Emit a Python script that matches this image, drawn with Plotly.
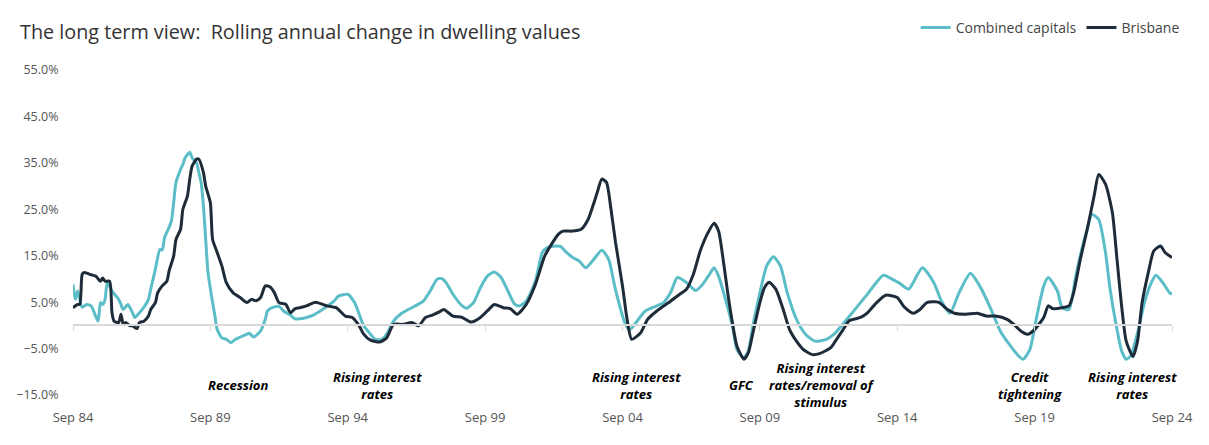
import pandas as pd
import plotly.graph_objects as go

# months since Sep 1984, and rolling annual change (%)
cc_months = [0,1,2,4,6,8,9,11,12,13,14,15,17,20,21,22,24,26,27,29,31,33,34,35,36,38,39,40,42,43,44,45,47,48,49,51,52,54,55,56,57,58,59,61,62,63,65,67,69,71,74,76,77,79,82,84,85,87,90,92,95,97,99,102,105,109,114,116,120,123,125,127,130,132,135,137,140,143,146,150,153,156,159,161,163,166,170,172,175,178,181,184,187,190,193,195,198,202,205,207,211,213,215,218,221,224,227,231,234,237,241,243,247,250,255,258,261,264,268,272,275,278,280,282,285,288,290,293,295,297,300,303,306,309,312,316,320,324,329,333,338,344,347,354,358,361,365,371,376,379,383,387,392,396,401,405,409,413,415,418,421,424,426,430,432,435,438,441,443,445,448,451,453,456,458,460,462,465,468,471,473,476,479,480]
cc_values = [8.8,5.6,7.4,3.9,4.5,4.2,3.1,0.9,4.9,4.5,5.6,9.2,7.4,5.6,4.5,3.4,4.5,2.7,1.7,2.7,3.9,5.6,7.8,9.9,12.1,16.4,16.2,18.9,21.1,22.5,26.4,30.8,33.6,34.7,36.1,37.3,36.1,35.0,32.9,30.8,25.7,18.5,11.4,4.9,2.0,-0.9,-2.7,-3.0,-3.7,-3.0,-2.3,-1.9,-1.7,-2.5,-1.2,1.3,3.1,3.8,4.1,3.1,2.2,1.4,1.4,1.7,2.2,3.4,5.2,6.3,6.7,4.9,2.4,-0.1,-1.9,-3.0,-3.0,-1.9,0.9,2.4,3.3,4.3,5.2,7.4,9.9,10.1,9.2,6.7,4.2,3.7,4.9,8.1,10.6,11.5,10.3,7.4,4.5,4.2,5.2,9.5,15.7,16.7,17.1,17.0,16.0,14.7,13.9,12.4,13.9,16.2,14.2,7.6,0.6,-1.0,1.3,3.1,4.2,4.9,7.0,10.3,9.2,7.5,8.8,11.0,12.4,10.6,5.6,-0.1,-5.2,-7.0,-5.5,-0.1,7.0,12.8,14.8,12.8,7.0,1.3,-1.9,-3.4,-3.0,-1.6,1.3,4.9,6.7,10.8,9.9,9.1,7.8,12.4,9.2,5.6,2.6,7.0,11.2,8.5,3.4,-1.2,-4.1,-6.6,-7.3,-5.2,2.0,8.5,10.3,7.4,3.8,3.4,10.6,17.1,20.7,23.9,22.8,15.7,7.8,-0.9,-5.5,-7.3,-6.6,-1.6,4.9,9.2,10.8,9.2,7.0,6.7]

bne_months = [0,2,3,4,5,8,10,12,13,14,16,17,18,20,21,22,23,25,26,28,29,31,33,34,36,37,39,41,42,44,45,47,48,50,51,52,54,55,57,58,60,61,63,65,67,70,73,76,78,80,82,84,86,88,90,93,95,97,99,102,106,111,115,119,122,125,127,130,134,137,140,144,148,151,154,157,160,162,166,170,174,178,181,184,188,191,194,198,202,206,209,212,214,218,222,225,229,231,233,235,237,240,242,244,248,251,255,261,265,268,271,274,277,280,282,284,286,288,290,293,295,297,300,302,304,307,310,313,316,319,323,326,331,333,336,339,344,347,351,355,360,363,367,370,373,378,382,385,390,395,399,403,408,411,414,417,420,424,426,428,432,435,437,440,443,446,448,451,454,456,458,460,463,465,467,470,472,475,477,480]
bne_values = [3.8,4.5,4.5,11.0,11.4,10.9,10.6,9.5,10.2,9.5,9.5,2.7,0.9,0.6,2.4,0.2,0.6,-0.1,-0.1,-0.7,0.6,0.9,2.0,3.4,4.9,7.0,8.5,9.5,11.7,14.9,18.5,20.7,25.0,27.9,31.5,34.3,35.8,35.8,32.9,30.0,26.4,18.5,15.7,12.8,9.2,7.0,6.0,4.9,5.6,5.3,6.0,8.5,8.3,7.0,4.9,4.5,2.7,3.6,3.8,4.2,5.0,4.2,3.8,2.0,1.7,-0.1,-1.9,-3.2,-3.6,-2.7,0.2,0.2,0.6,-0.1,1.7,2.2,2.9,3.4,2.0,1.7,0.7,1.7,3.1,4.5,3.8,3.6,2.4,4.5,8.8,14.9,17.5,19.6,20.3,20.3,20.7,22.8,28.6,31.5,30.8,25.0,17.8,8.5,1.3,-3.0,-1.6,1.3,3.1,5.2,6.7,7.8,11.0,16.0,19.6,22.0,20.3,14.2,7.0,0.6,-4.5,-7.3,-5.9,-1.6,4.9,8.1,9.3,7.8,3.8,-0.9,-3.4,-5.2,-6.3,-6.1,-4.8,-3.4,-1.2,1.0,1.7,2.7,4.9,6.5,6.0,4.0,2.6,3.4,4.9,5.0,3.4,2.6,2.4,2.6,2.0,2.0,1.3,0.2,-1.2,-1.9,-0.9,1.7,4.2,3.6,3.8,4.2,7.0,14.2,20.7,27.9,32.5,30.4,24.3,14.2,4.2,-3.4,-6.7,-3.4,4.9,12.1,16.0,17.1,15.7,14.6]

tick_years = [1984, 1989, 1994, 1999, 2004, 2009, 2014, 2019, 2024]
tick_labels = ["Sep 84", "Sep 89", "Sep 94", "Sep 99", "Sep 04", "Sep 09", "Sep 14", "Sep 19", "Sep 24"]

events = ["Recession", "Rising interest<br>rates", "Rising interest<br>rates", "GFC",
          "Rising interest<br>rates/removal of<br>stimulus", "Credit<br>tightening", "Rising interest<br>rates"]
event_months = [72, 133, 246, 292, 327, 418, 463]

start = pd.Timestamp("1984-09-01")
def to_date(m):
    return start + pd.DateOffset(months=int(m))

cc_dates = [to_date(m) for m in cc_months]
bne_dates = [to_date(m) for m in bne_months]
tick_dates = [pd.Timestamp(f"{y}-09-01") for y in tick_years]
xr = [tick_dates[0], tick_dates[-1]]

TEAL = "#5BBDC7"
NAVY = "#1E2C3A"
FONT = "Open Sans"

fig = go.Figure()
fig.add_trace(go.Scatter(x=cc_dates, y=cc_values, mode="lines", name="Combined capitals",
                         line=dict(color=TEAL, width=3, shape="spline", smoothing=0.6)))
fig.add_trace(go.Scatter(x=bne_dates, y=bne_values, mode="lines", name="Brisbane",
                         line=dict(color=NAVY, width=3, shape="spline", smoothing=0.6)))
# invisible carrier so the bottom label axis is drawn
fig.add_trace(go.Scatter(x=xr, y=[0, 0], xaxis="x2", mode="lines", line=dict(width=0),
                         opacity=0, showlegend=False, hoverinfo="skip"))

for txt, m in zip(events, event_months):
    fig.add_annotation(x=to_date(m), y=-12.9, text=txt, showarrow=False,
                       font=dict(family=FONT, size=13, color="#000000", style="italic", weight="bold"),
                       align="center", xanchor="center", yanchor="middle")

fig.update_layout(
    width=1209, height=445,
    margin=dict(l=73, r=37, t=70, b=50),
    paper_bgcolor="white", plot_bgcolor="white",
    font=dict(family=FONT, color="#555555"),
    title=dict(text="The long term view:  Rolling annual change in dwelling values",
               x=20/1209, xanchor="left", y=1-32/445, yanchor="middle",
               font=dict(family=FONT, size=19.8, color="#333333")),
    legend=dict(orientation="h", x=927/1209, xanchor="left", y=1-28/445, yref="container", yanchor="middle",
                font=dict(family=FONT, size=14, color="#444444"), itemwidth=30, traceorder="normal"),
    showlegend=True,
    xaxis=dict(type="date", range=xr, anchor="free", position=15/70, showline=True,
               linecolor="#d9d9d9", linewidth=1.5, ticks="outside", tickcolor="#d9d9d9", ticklen=5,
               tickvals=tick_dates, showticklabels=False, showgrid=False, zeroline=False),
    xaxis2=dict(type="date", range=xr, overlaying="x", anchor="y", side="bottom", showline=False,
                tickvals=tick_dates, ticktext=tick_labels, ticks="outside", ticklen=10,
                tickcolor="rgba(0,0,0,0)", tickfont=dict(family=FONT, size=13, color="#555555"),
                showgrid=False, zeroline=False),
    yaxis=dict(range=[-15, 55], tick0=-15, dtick=10, tickformat=".1f", ticksuffix="%",
               showgrid=False, zeroline=False, showline=False, ticks="outside", ticklen=11,
               tickcolor="rgba(0,0,0,0)", tickfont=dict(family=FONT, size=12.5, color="#555555")),
)

fig.write_html("out.html", config={"displayModeBar": False},
               post_script="document.body.style.margin='0';")
